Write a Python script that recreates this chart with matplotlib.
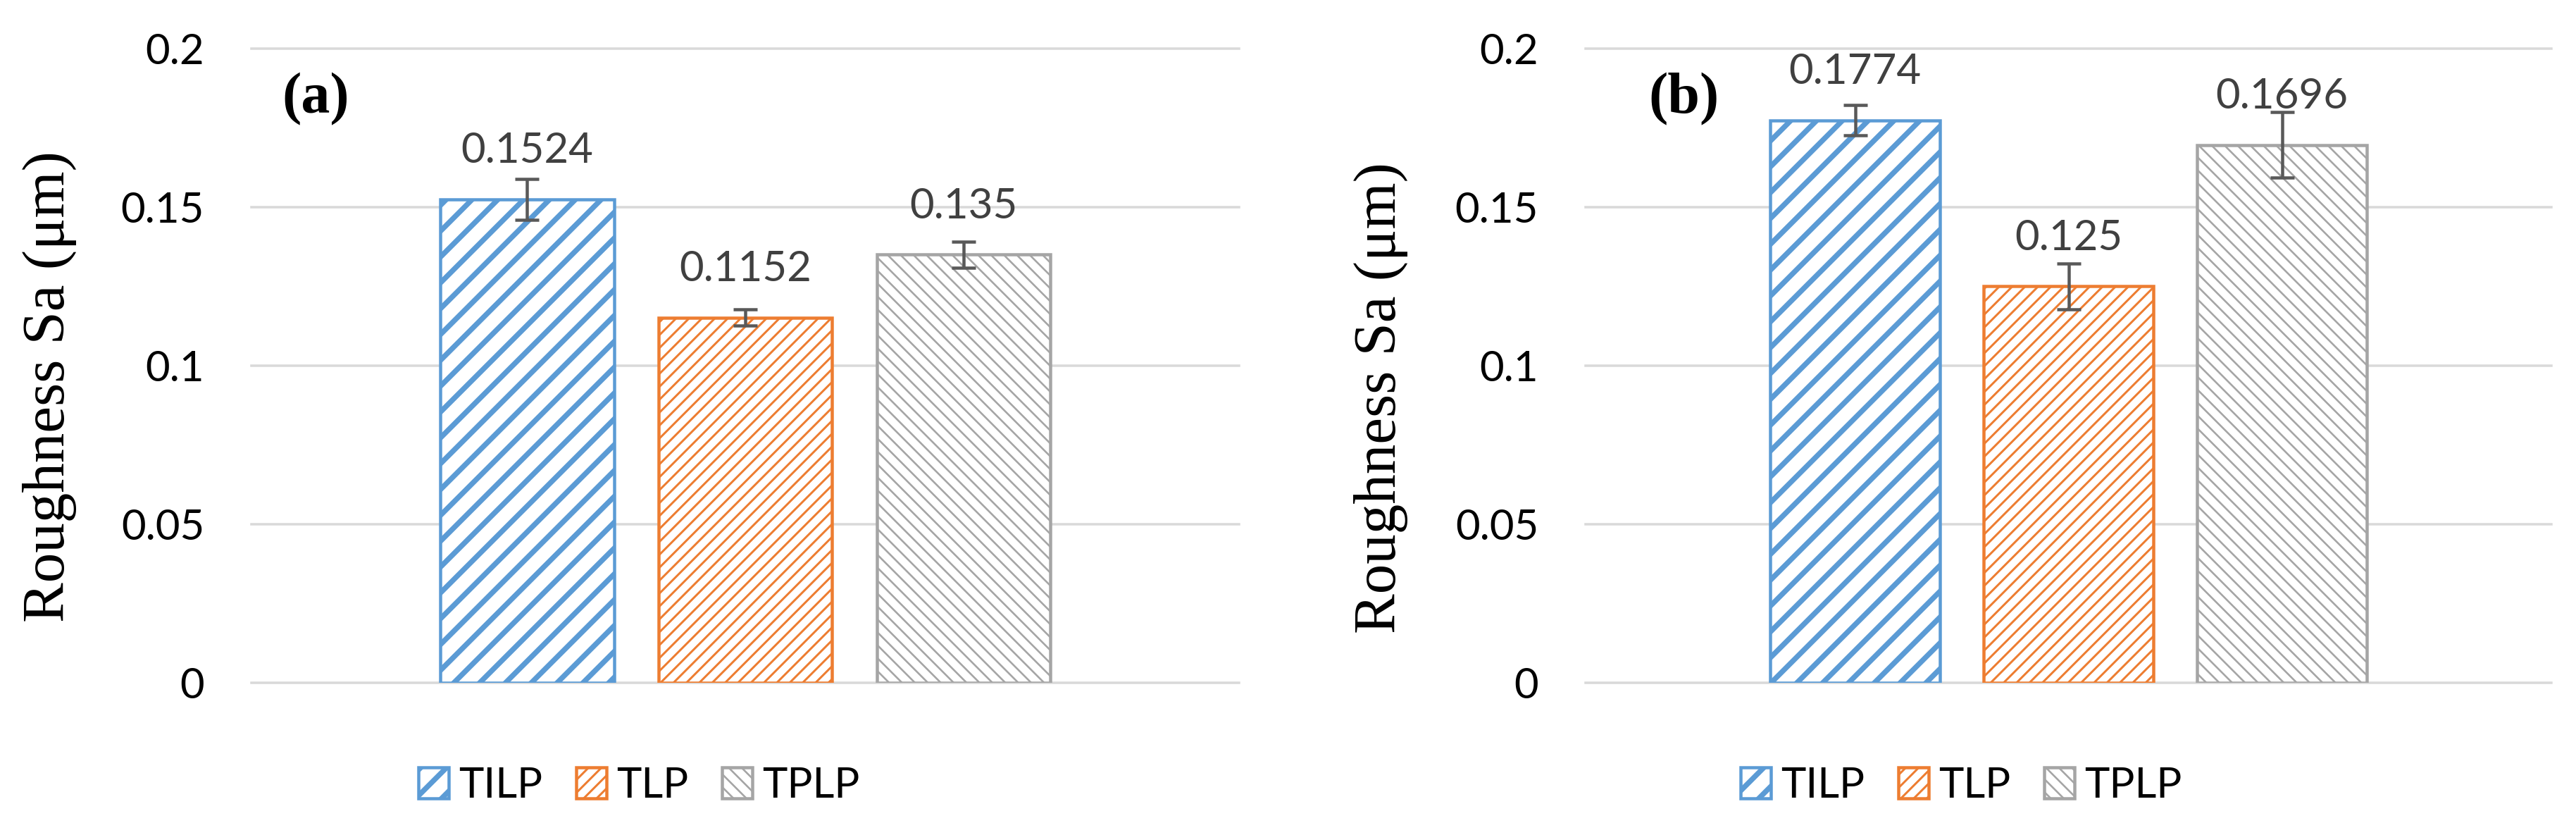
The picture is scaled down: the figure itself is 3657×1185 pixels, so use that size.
import matplotlib
matplotlib.use("Agg")
import matplotlib.pyplot as plt

DPI = 110
W, H = 3657, 1185


def pt(px):
    # pixel size in the output -> points
    return px * 72.0 / DPI


# data
categories = ["TILP", "TLP", "TPLP"]
sa_a = [0.1524, 0.1152, 0.135]
err_a = [0.0064, 0.0026, 0.0042]
sa_b = [0.1774, 0.125, 0.1696]
err_b = [0.0047, 0.0072, 0.0103]
yticks = [0, 0.05, 0.1, 0.15, 0.2]
ytick_labels = ["0", "0.05", "0.1", "0.15", "0.2"]

colors = ["#5B9BD5", "#ED7D31", "#A5A5A5"]
hatches = ["/", "//", "\\\\"]
hatch_px = [7.5, 3.0, 2.6]
offsets = [-0.221, 0.0, 0.221]

plt.rcParams["hatch.linewidth"] = pt(2.5)

fig = plt.figure(figsize=((W + 0.1) / DPI, (H + 0.1) / DPI), dpi=DPI)


def hatch_width(artist, lw):
    # hatch linewidth is a global rc setting, so wrap the draw call
    orig = artist.draw

    def draw(renderer):
        with plt.rc_context({"hatch.linewidth": lw}):
            orig(renderer)

    artist.draw = draw
    if hasattr(artist, "set_hatch_linewidth"):
        artist.set_hatch_linewidth(lw)


def panel(left, right, vals, errs, tag, tag_x, label_x, label_y, legend_x):
    ax = fig.add_axes([left / W, 1 - 969 / H, (right - left) / W, 900 / H])
    for off, v, e, c, h, hp, name in zip(offsets, vals, errs, colors,
                                         hatches, hatch_px, categories):
        bars = ax.bar(off, v, width=0.176, color="white", edgecolor=c,
                      hatch=h, linewidth=pt(4.5), label=name, zorder=2)
        for p in bars:
            hatch_width(p, pt(hp))
        ax.errorbar(off, v, yerr=e, fmt="none", ecolor="#595959",
                    elinewidth=pt(4.5), capsize=pt(17), capthick=pt(4.5),
                    zorder=3)
        ax.annotate(f"{v:g}", (off, v), xytext=(0, pt(52)),
                    textcoords="offset points", ha="center", va="baseline",
                    family="Lato", fontsize=pt(60), color="#404040")

    ax.set_xlim(-0.5, 0.5)
    ax.set_ylim(0, 0.2)
    ax.set_xticks([])
    ax.set_yticks(yticks, ytick_labels)
    ax.tick_params(axis="y", length=0, pad=pt(67), labelsize=pt(60),
                   labelcolor="black")
    for lab in ax.get_yticklabels():
        lab.set_family("Lato")
    ax.grid(axis="y", color="#D9D9D9", linewidth=pt(3.5))
    ax.set_axisbelow(True)
    for line in ax.get_ygridlines():
        line.set_clip_on(False)
    for s in ax.spines.values():
        s.set_visible(False)

    fig.text(label_x / W, 1 - label_y / H, "Roughness Sa (μm)", rotation=90,
             ha="center", va="center", family="Liberation Serif",
             fontsize=pt(85))
    fig.text(tag_x / W, 1 - 141 / H, tag, ha="center", va="center",
             family="Liberation Serif", weight="bold", fontsize=pt(82))

    handles, labels = ax.get_legend_handles_labels()
    leg = fig.legend(handles, labels, loc="center",
                     bbox_to_anchor=(legend_x / W, 1 - 1115 / H), ncol=3,
                     frameon=False, prop={"family": "Lato", "size": pt(60)},
                     handlelength=0.72, handleheight=0.73, handletextpad=0.23,
                     columnspacing=0.8, borderpad=0, borderaxespad=0)
    for hnd, hp in zip(leg.legend_handles, hatch_px):
        hatch_width(hnd, pt(hp))
    return ax


panel(357, 1759, sa_a, err_a, "(a)", 448, 70, 549, 907)
panel(2251, 3622, sa_b, err_b, "(b)", 2390, 1960, 565, 2784)

fig.savefig("out.png", dpi=DPI, facecolor="white")
